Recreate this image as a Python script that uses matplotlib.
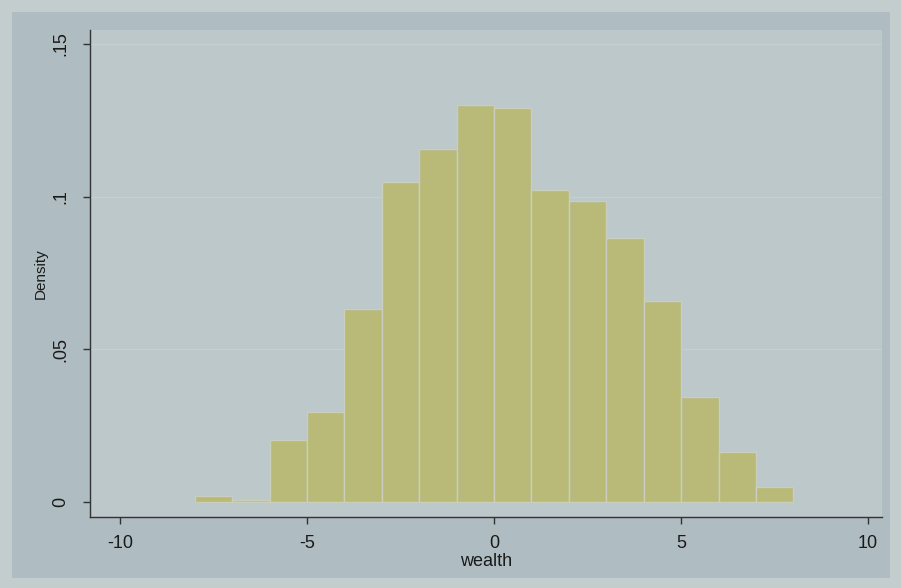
import matplotlib.pyplot as plt
from matplotlib.patches import Rectangle
import numpy as np

plt.rcParams['font.family'] = ['Liberation Sans', 'DejaVu Sans']
plt.rcParams['axes.unicode_minus'] = False

# bin edges (width 1) and histogram densities for wealth
bin_left = np.arange(-8, 8)
density = [0.0019, 0.0007, 0.0203, 0.0295, 0.0632, 0.1048, 0.1156, 0.1300,
           0.1290, 0.1022, 0.0986, 0.0865, 0.0658, 0.0344, 0.0164, 0.0049]

xticks = [-10, -5, 0, 5, 10]
yticks = [0, 0.05, 0.1, 0.15]
ytick_labels = ['0', '.05', '.1', '.15']

fig = plt.figure(figsize=(9.01, 5.88), dpi=100)
fig.patch.set_facecolor('#c3cdce')
# outer graph region (darker band round the plot)
fig.add_artist(Rectangle((12 / 901, 10 / 588), 878 / 901, 566 / 588,
                         transform=fig.transFigure, facecolor='#afbdc2',
                         edgecolor='none', zorder=-5))

ax = fig.add_axes([90 / 901, 1 - 517 / 588, 792 / 901, 487 / 588])
ax.set_zorder(2)
ax.set_facecolor('#bcc8c9')

for y in [0.05, 0.1, 0.15]:
    ax.axhline(y, color='#c6d0d0', lw=0.9, zorder=0)

ax.bar(bin_left, density, width=1, align='edge', color='#b9b978',
       edgecolor='#c9cfc0', linewidth=1.0, zorder=2)

ax.set_xlim(-10.8, 10.37)
ax.set_ylim(-0.0049, 0.1546)

ax.set_xticks(xticks)
ax.set_yticks(yticks)
ax.set_yticklabels(ytick_labels, rotation=90, va='center')
ax.tick_params(axis='both', direction='out', length=5, width=1,
               color='#333333', labelsize=13, labelcolor='#1a1a1a')
ax.tick_params(axis='x', pad=8)
ax.tick_params(axis='y', pad=10)

for side in ['top', 'right']:
    ax.spines[side].set_visible(False)
for side in ['left', 'bottom']:
    ax.spines[side].set_color('#333333')
    ax.spines[side].set_linewidth(1)

ax.set_xlabel('wealth', fontsize=13, color='#1a1a1a', labelpad=1)
ax.set_ylabel('Density', fontsize=11, color='#1a1a1a', labelpad=3)

fig.savefig('out.png', dpi=100, facecolor=fig.get_facecolor())
